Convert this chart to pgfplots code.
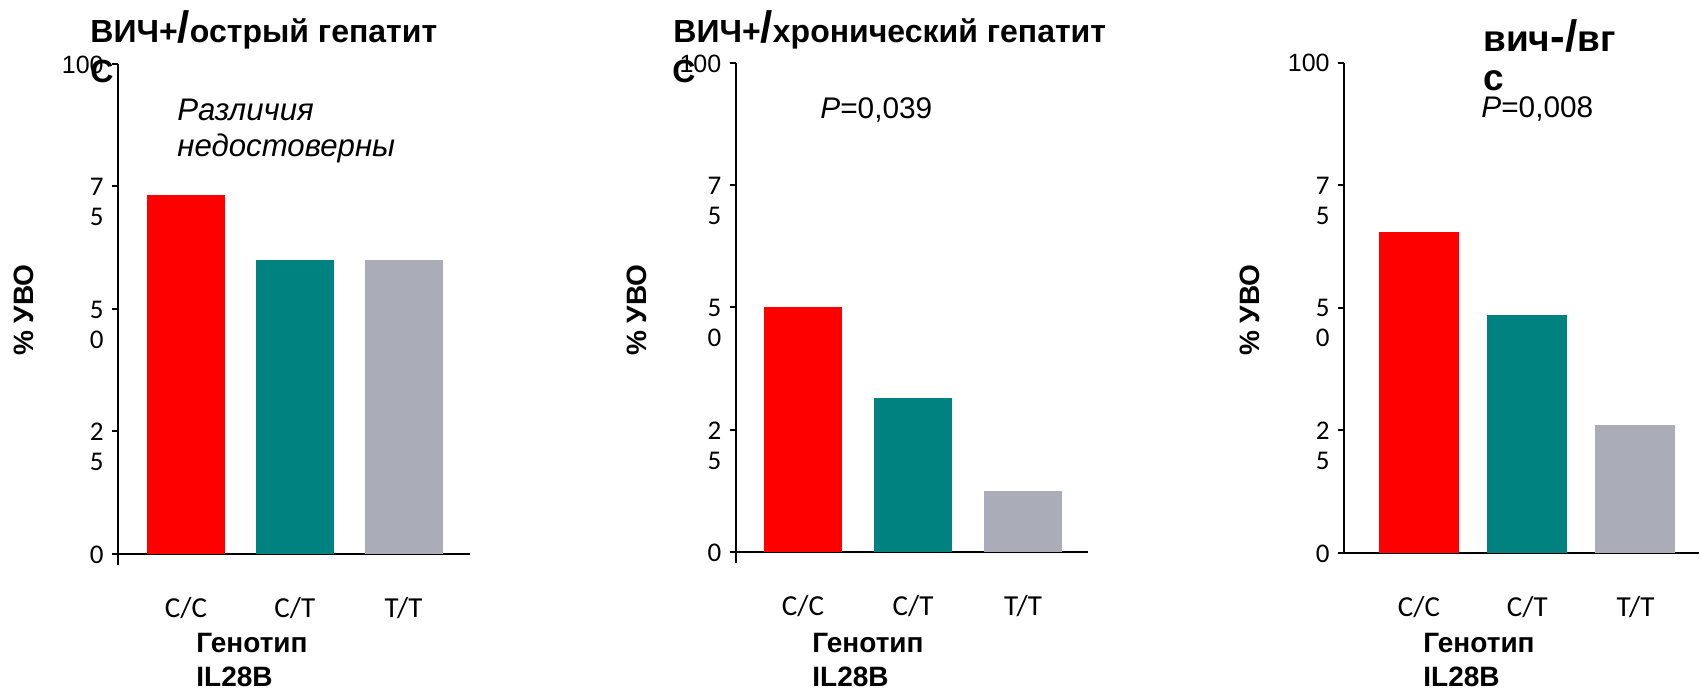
\documentclass[border=0pt]{standalone}
\usepackage{fontspec}
\setmainfont{Liberation Sans}
\newfontfamily\calibri{Carlito}
\usepackage{pgfplots}
\pgfplotsset{compat=1.18}

\definecolor{barred}{RGB}{255,0,0}
\definecolor{barteal}{RGB}{0,130,128}
\definecolor{bargray}{RGB}{170,173,184}

% one panel of the three
\pgfplotsset{
  genpanel/.style={
    scale only axis,
    anchor=south west,
    ymin=0, ymax=100,
    axis lines=left,
    axis line style={line width=1pt, -},
    ytick={0,25,50,75,100},
    yticklabels={0,{2\\5},{5\\0},{7\\5},{\rmfamily\fontsize{12.5}{14}\selectfont 100}},
    yticklabel style={font=\calibri\fontsize{13.5}{15}\selectfont, align=right,
      anchor=north east, inner sep=0pt, yshift=4.3pt, xshift=-4pt},
    xtick={0,1,2},
    xticklabels={C/C,C/T,T/T},
    xticklabel style={font=\calibri\fontsize{14.5}{16}\selectfont, anchor=base,
      inner sep=0pt, yshift=-29pt},
    xtick style={draw=none},
    major tick length=3pt,
    tick align=outside,
    ytick style={line width=1pt, black},
    ybar, bar width=39pt, bar shift=0pt,
    clip=false,
  },
}

\begin{document}
\begin{tikzpicture}
\useasboundingbox (0,0) rectangle (850.5pt,344.5pt);

% ВИЧ+ / острый гепатит
\begin{axis}[genpanel, at={(59pt,67.5pt)}, width=176pt, height=245pt,
  xmin=-0.625, xmax=2.611, y axis line style={shorten <=-5.5pt}]
\addplot[fill=barred, draw=none] coordinates {(0,73.3)};
\addplot[fill=barteal, draw=none] coordinates {(1,60)};
\addplot[fill=bargray, draw=none] coordinates {(2,60)};
\end{axis}

% ВИЧ+ / хронический гепатит
\begin{axis}[genpanel, at={(367.85pt,68.5pt)}, width=176pt, height=244.5pt,
  xmin=-0.612, xmax=2.588, y axis line style={shorten <=-5.5pt}]
\addplot[fill=barred, draw=none] coordinates {(0,50)};
\addplot[fill=barteal, draw=none] coordinates {(1,31.5)};
\addplot[fill=bargray, draw=none] coordinates {(2,12.5)};
\end{axis}

% ВИЧ- / ВГС
\begin{axis}[genpanel, at={(672pt,68.15pt)}, width=177.5pt, height=245pt,
  xmin=-0.693, xmax=2.587, bar width=40pt]
\addplot[fill=barred, draw=none] coordinates {(0,65.4)};
\addplot[fill=barteal, draw=none] coordinates {(1,48.5)};
\addplot[fill=bargray, draw=none] coordinates {(2,26.1)};
\end{axis}

% texts, placed in image pixels (y down)
\begin{scope}[x=0.5pt, y=-0.5pt, shift={(0,344.5pt)},
  every node/.style={inner sep=0pt, anchor=base west}]
  \def\ttl{\fontsize{16}{18}\selectfont\bfseries}
  \node at (90,43) {\ttl ВИЧ+{\fontsize{22}{22}\selectfont/}острый гепатит};
  \node at (90,83) {\ttl С};
  \node at (673,43) {\ttl ВИЧ+{\fontsize{22}{22}\selectfont/}хронический гепатит};
  \node at (672,83) {\ttl С};
  \def\tth{\fontsize{18.5}{20}\selectfont\bfseries}
  \node at (1483,52) {\tth вич{\fontsize{22}{22}\selectfont-/}вг};
  \node at (1483,91) {\tth с};

  \node at (177,121) {\fontsize{15.6}{18}\selectfont\itshape Различия};
  \node at (177,157) {\fontsize{15.6}{18}\selectfont\itshape недостоверны};
  \node at (820,119) {\fontsize{14.9}{17}\selectfont{\itshape P}=0,039};
  \node at (1481,118) {\fontsize{14.9}{17}\selectfont{\itshape P}=0,008};

  \foreach \cx in {24,637,1250}
    \node[rotate=90, anchor=center] at (\cx,310) {\fontsize{14}{16}\selectfont\bfseries\% УВО};

  \foreach \gx in {196,812,1423} {
    \node at (\gx,653) {\fontsize{14}{16}\selectfont\bfseries Генотип};
    \node at (\gx,687) {\fontsize{14}{16}\selectfont\bfseries IL28B};
  }
\end{scope}
\end{tikzpicture}
\end{document}
